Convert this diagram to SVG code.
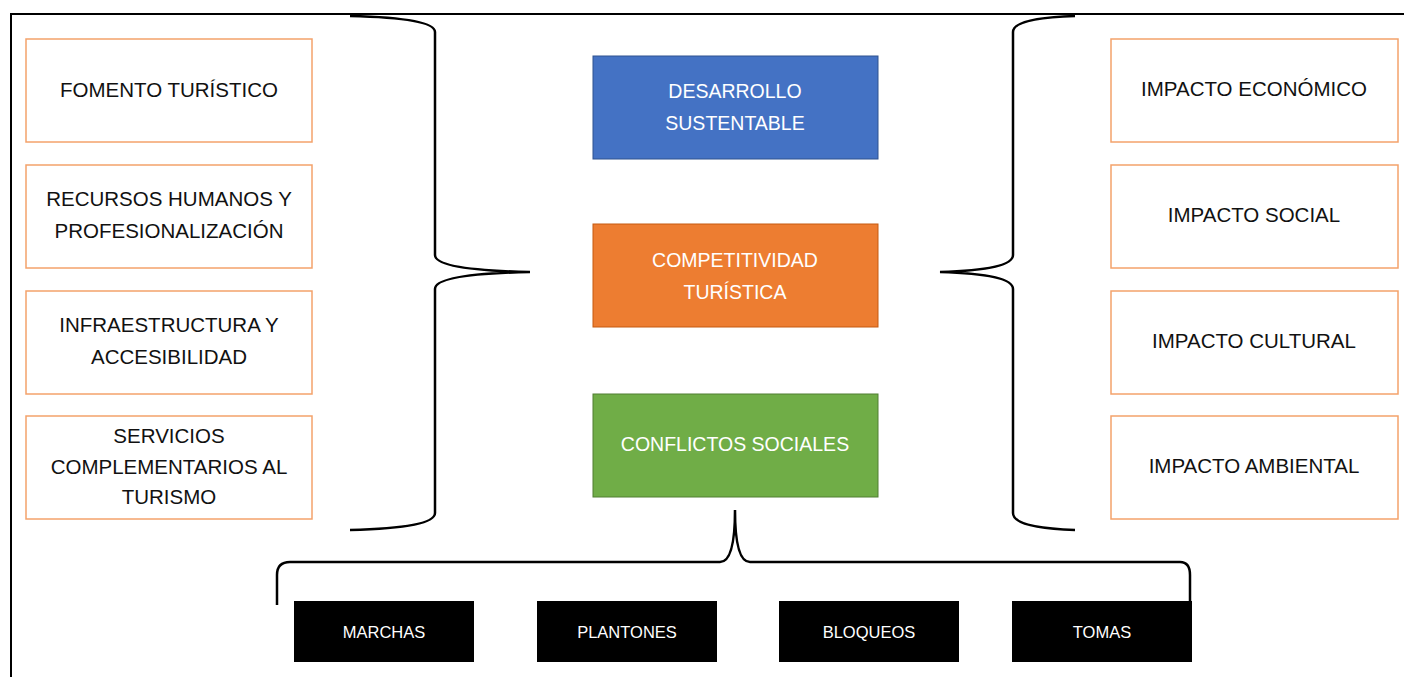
<svg xmlns="http://www.w3.org/2000/svg" width="1404" height="677" viewBox="0 0 1404 677">
<style>
.side{fill:#fff;stroke:#F4A26B;stroke-width:1.5}
.t{font-family:"Liberation Sans",Arial,sans-serif;font-size:20.5px;fill:#111;text-anchor:middle}
.w{font-family:"Liberation Sans",Arial,sans-serif;font-size:19.5px;fill:#fff;text-anchor:middle}
.s{font-family:"Liberation Sans",Arial,sans-serif;font-size:16.5px;fill:#fff;text-anchor:middle}
.br{fill:none;stroke:#000;stroke-width:2.5}
</style>
<rect width="1404" height="677" fill="#fff"/>
<path d="M11,677 V14 H1404" fill="none" stroke="#000" stroke-width="2"/>
<g id="connectors">
<path class="br" d="M350,16 Q435,18 435,32 V255 Q435,270 530,272 Q435,274 435,289 V513 Q435,528 350,530"/>
<path class="br" d="M1075,16 Q1013,18 1013,32 V255 Q1013,270 940,272 Q1013,274 1013,289 V513 Q1013,528 1075,530"/>
<path class="br" d="M277,605 V575 Q277,562 290,562 H720 Q735,562 735,510 Q735,562 750,562 H1180 Q1190,562 1190,575 V602"/>
</g>
<g id="n-fomento"><rect class="side" x="26" y="39" width="286" height="103"/><text class="t" x="169" y="97">FOMENTO TURÍSTICO</text></g>
<g id="n-recursos"><rect class="side" x="26" y="165" width="286" height="103"/><text class="t" x="169" y="206">RECURSOS HUMANOS Y</text><text class="t" x="169" y="238">PROFESIONALIZACIÓN</text></g>
<g id="n-infra"><rect class="side" x="26" y="291" width="286" height="103"/><text class="t" x="169" y="332">INFRAESTRUCTURA Y</text><text class="t" x="169" y="364">ACCESIBILIDAD</text></g>
<g id="n-servicios"><rect class="side" x="26" y="416" width="286" height="103"/><text class="t" x="169" y="443">SERVICIOS</text><text class="t" x="169" y="474">COMPLEMENTARIOS AL</text><text class="t" x="169" y="504">TURISMO</text></g>
<g id="n-economico"><rect class="side" x="1111" y="39" width="287" height="103"/><text class="t" x="1254" y="96">IMPACTO ECONÓMICO</text></g>
<g id="n-social"><rect class="side" x="1111" y="165" width="287" height="103"/><text class="t" x="1254" y="222">IMPACTO SOCIAL</text></g>
<g id="n-cultural"><rect class="side" x="1111" y="291" width="287" height="103"/><text class="t" x="1254" y="348">IMPACTO CULTURAL</text></g>
<g id="n-ambiental"><rect class="side" x="1111" y="416" width="287" height="103"/><text class="t" x="1254" y="473">IMPACTO AMBIENTAL</text></g>
<g id="n-desarrollo"><rect x="593" y="56" width="285" height="103" fill="#4472C4" stroke="#2F528F" stroke-width="1"/><text class="w" x="735" y="98">DESARROLLO</text><text class="w" x="735" y="130">SUSTENTABLE</text></g>
<g id="n-competitividad"><rect x="593" y="224" width="285" height="103" fill="#ED7D31" stroke="#C55A11" stroke-width="1"/><text class="w" x="735" y="267">COMPETITIVIDAD</text><text class="w" x="735" y="299">TURÍSTICA</text></g>
<g id="n-conflictos"><rect x="593" y="394" width="285" height="103" fill="#70AD47" stroke="#507E32" stroke-width="1"/><text class="w" x="735" y="451">CONFLICTOS SOCIALES</text></g>
<g id="n-marchas"><rect x="294" y="601" width="180" height="61" fill="#000"/><text class="s" x="384" y="638">MARCHAS</text></g>
<g id="n-plantones"><rect x="537" y="601" width="180" height="61" fill="#000"/><text class="s" x="627" y="638">PLANTONES</text></g>
<g id="n-bloqueos"><rect x="779" y="601" width="180" height="61" fill="#000"/><text class="s" x="869" y="638">BLOQUEOS</text></g>
<g id="n-tomas"><rect x="1012" y="601" width="180" height="61" fill="#000"/><text class="s" x="1102" y="638">TOMAS</text></g>
</svg>
